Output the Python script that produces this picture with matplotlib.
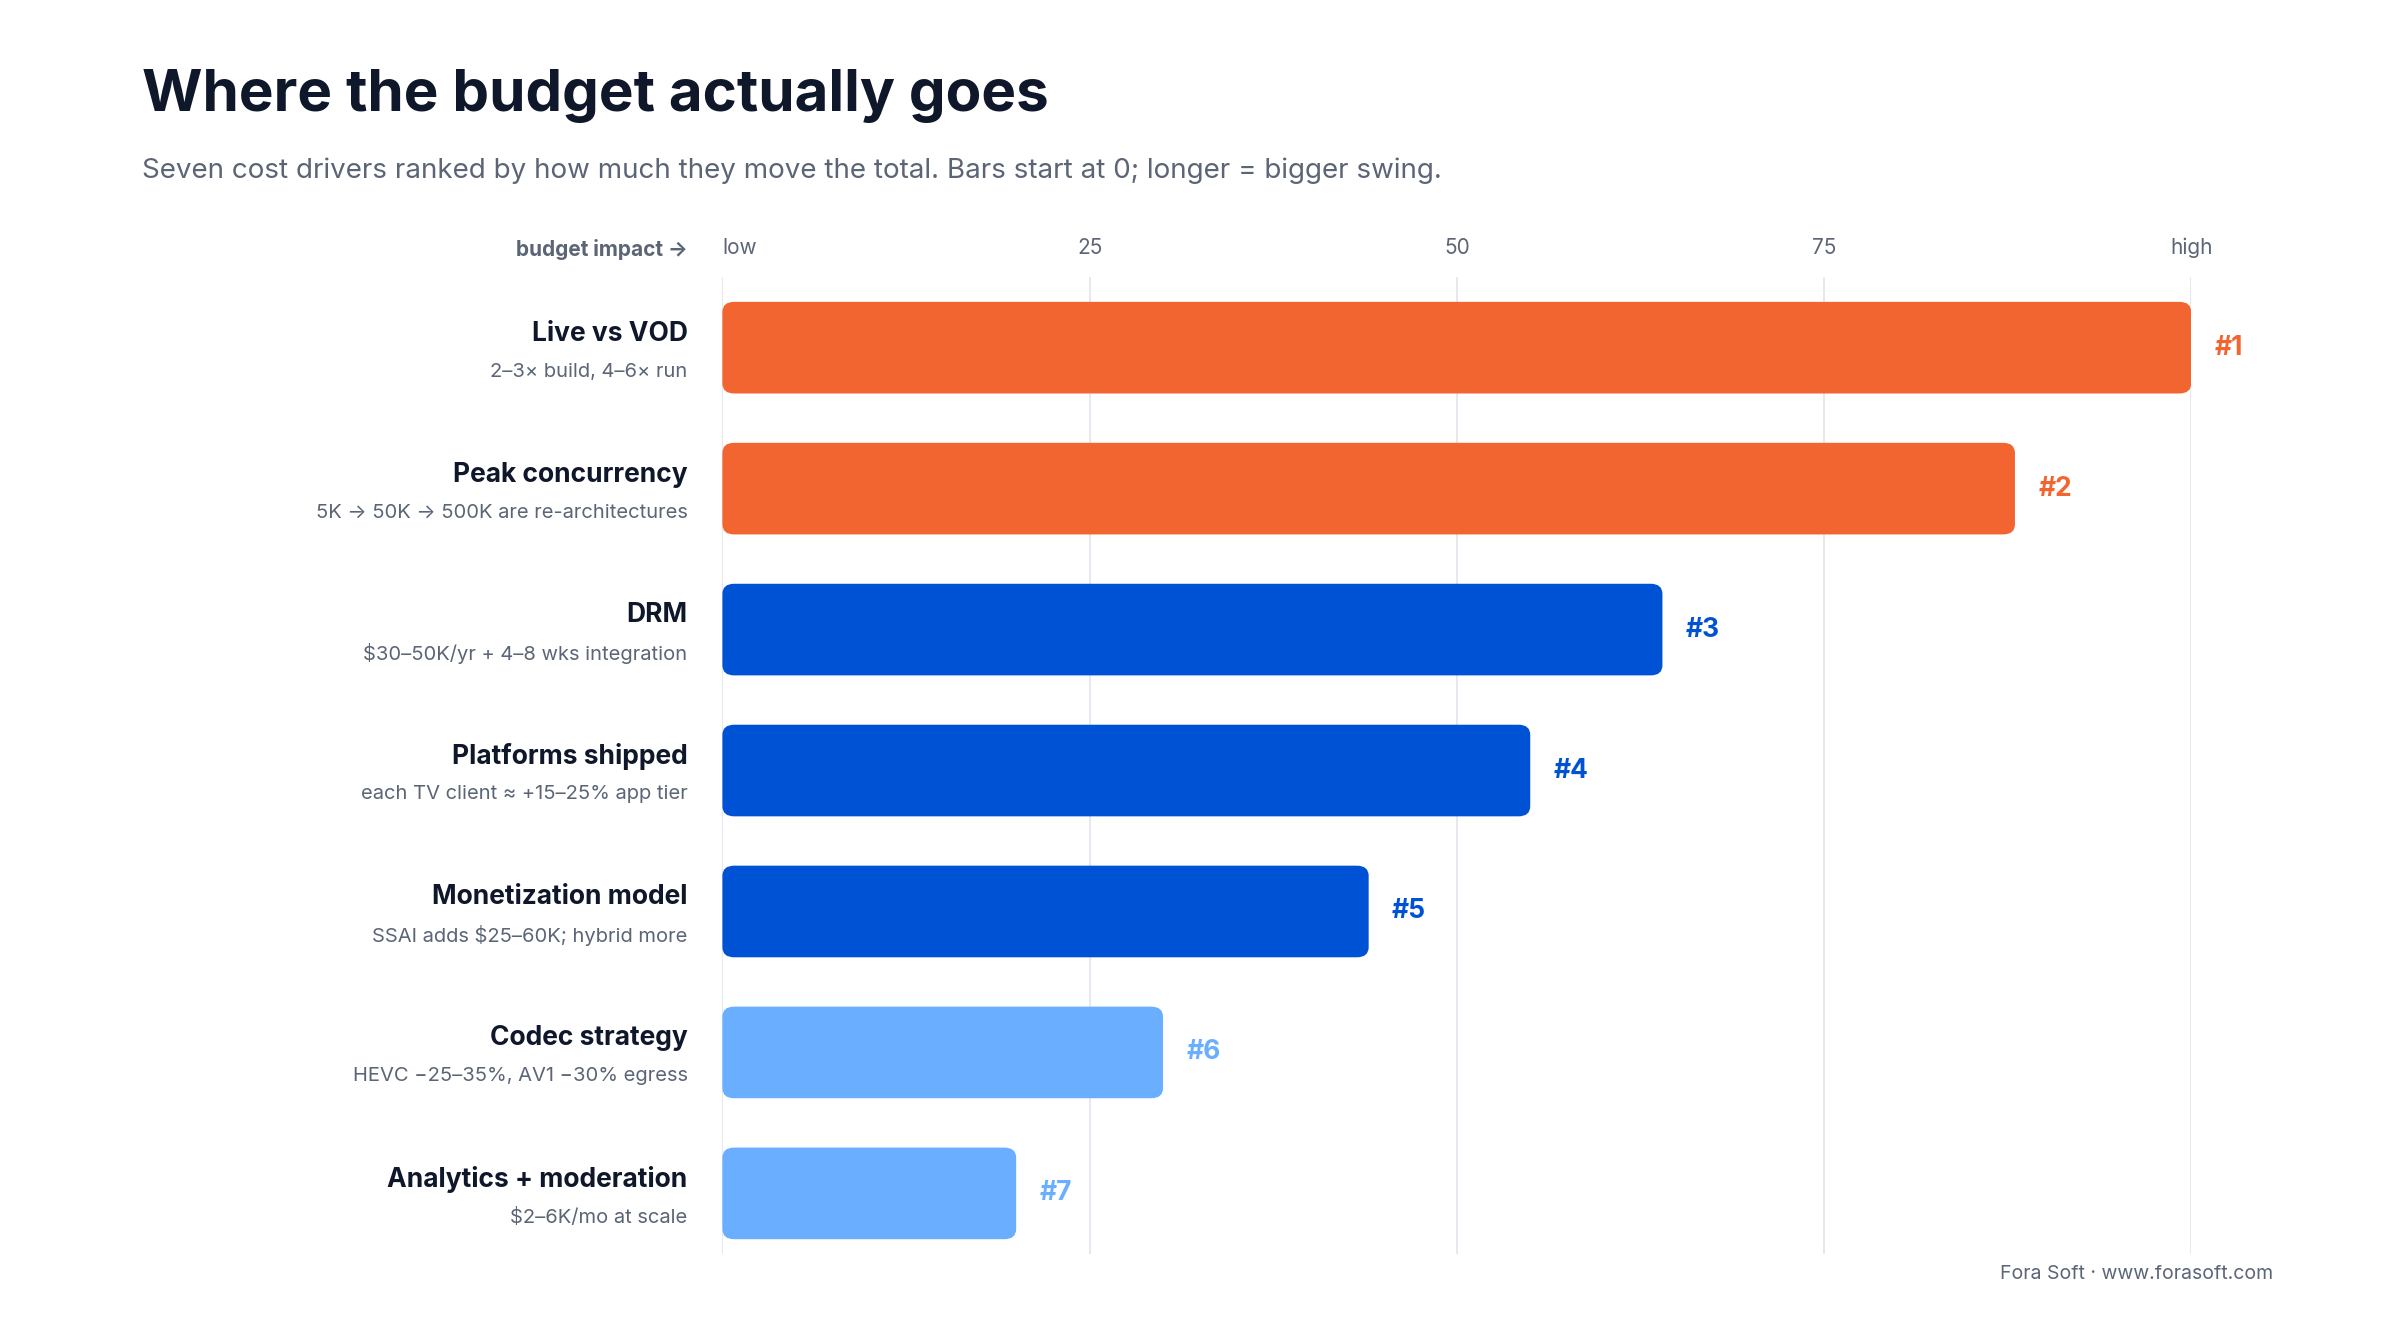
import matplotlib
matplotlib.use("Agg")
import matplotlib.pyplot as plt
from matplotlib.patches import FancyBboxPatch
import matplotlib.transforms as mtrans

plt.rcParams['font.family'] = ['Inter', 'DejaVu Sans']

names = ["Live vs VOD", "Peak concurrency", "DRM", "Platforms shipped",
         "Monetization model", "Codec strategy", "Analytics + moderation"]
subs = ["2–3× build, 4–6× run", "5K → 50K → 500K are re-architectures",
        "$30–50K/yr + 4–8 wks integration", "each TV client ≈ +15–25% app tier",
        "SSAI adds $25–60K; hybrid more", "HEVC −25–35%, AV1 −30% egress",
        "$2–6K/mo at scale"]
values = [100, 88, 64, 55, 44, 30, 20]
ranks = ["#1", "#2", "#3", "#4", "#5", "#6", "#7"]
tiers = [0, 0, 1, 1, 1, 2, 2]
tick_vals = [0, 25, 50, 75, 100]
tick_labels = ["low", "25", "50", "75", "high"]

colors = ["#F26430", "#0052D4", "#6AAEFF"]

fig = plt.figure(figsize=(24, 13.2), dpi=100)
fig.patch.set_facecolor("white")
ax = fig.add_axes([0.301, 0.050, 0.612, 0.740])
ax.set_xlim(0, 100)
ax.set_ylim(6.43, -0.5)
for s in ax.spines.values():
    s.set_visible(False)
ax.set_yticks([])
ax.set_xticks(tick_vals)
ax.set_xticklabels(tick_labels, fontsize=15, color="#5B6576")
ax.xaxis.tick_top()
ax.tick_params(axis='x', length=0, pad=14)
for lab, v in zip(ax.get_xticklabels(), tick_vals):
    if v == 0:
        lab.set_ha("left")
for v in tick_vals:
    ax.axvline(v, color="#E3E7EE", lw=1.3, zorder=0)

h = 0.65
for i, (v, t) in enumerate(zip(values, tiers)):
    c = colors[t]
    p = FancyBboxPatch((0, i - h / 2), v, h,
                       boxstyle="round,pad=0,rounding_size=0.8",
                       mutation_aspect=0.09, fc=c, ec="none", zorder=2)
    ax.add_patch(p)
    ax.text(v + 1.6, i, ranks[i], fontsize=19, fontweight="bold", color=c,
            va="center", ha="left")
    tr = mtrans.blended_transform_factory(fig.transFigure, ax.transData)
    fig.text(0.2865, i - 0.1, names[i], transform=tr, fontsize=19, fontweight="bold",
             color="#0F172A", ha="right", va="center")
    fig.text(0.2865, i + 0.17, subs[i], transform=tr, fontsize=14.5,
             color="#5B6576", ha="right", va="center")

fig.text(0.2865, 0.811, "budget impact →", fontsize=15, fontweight="bold",
         color="#5B6576", ha="right", va="center")
fig.text(0.059, 0.927, "Where the budget actually goes", fontsize=42,
         fontweight="bold", color="#0F172A", ha="left", va="center")
fig.text(0.059, 0.871, "Seven cost drivers ranked by how much they move the total. Bars start at 0; longer = bigger swing.",
         fontsize=20, color="#5B6576", ha="left", va="center")
fig.text(0.947, 0.035, "Fora Soft · www.forasoft.com", fontsize=14,
         color="#5B6576", ha="right", va="center")

fig.savefig("out.png", dpi=100, facecolor="white")
